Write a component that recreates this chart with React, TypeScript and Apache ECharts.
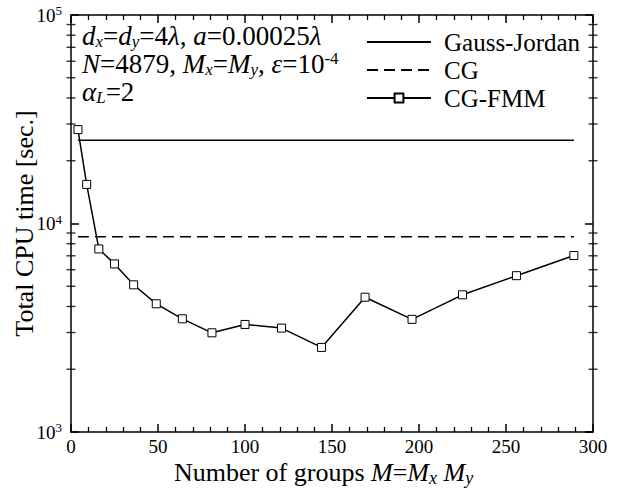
import React, { useEffect, useRef } from "react";
import * as echarts from "echarts";

const groupCounts = [4, 9, 16, 25, 36, 49, 64, 81, 100, 121, 144, 169, 196, 225, 256, 289];
const cgFmmTimes = [28200, 15400, 7550, 6400, 5080, 4120, 3490, 2990, 3280, 3150, 2545, 4430, 3470, 4550, 5620, 7020];
const gaussJordanX = [4, 289];
const gaussJordanTime = 25100;
const cgX = [4, 289];
const cgTime = 8650;
const yMinorValues = [2000, 3000, 4000, 5000, 6000, 7000, 8000, 9000, 20000, 30000, 40000, 50000, 60000, 70000, 80000, 90000];
const xRange = [0, 300];

const FONT = "Liberation Serif";

export default function App() {
  const ref = useRef<HTMLDivElement>(null);
  useEffect(() => {
    if (!ref.current) return;
    const chart = echarts.init(ref.current, null, { renderer: "svg" });
    const axisLine = { show: true, onZero: false, lineStyle: { color: "#000", width: 1.5 } };
    const baseText = { fontFamily: FONT, color: "#000", fontWeight: "normal" as const };
    const tickSeries = (x: number) => ({
      type: "scatter",
      silent: true,
      clip: false,
      z: 10,
      xAxisIndex: 0,
      yAxisIndex: 0,
      symbol: "rect",
      symbolSize: [9, 1.4],
      itemStyle: { color: "#000" },
      data: yMinorValues.map((v) => [x, v]),
    });
    const option: any = {
      animation: false,
      backgroundColor: "#fff",
      title: {
        left: 82,
        top: 22,
        padding: 0,
        text:
          "{i|d}{sub|x}{n|=}{i|d}{sub|y}{n|=4}{i|λ}{n|, }{i|a}{n|=0.00025}{i|λ}\n" +
          "{i|N}{n|=4879, }{i|M}{sub|x}{n|=}{i|M}{sub|y}{n|, }{i|ε}{n|=10}{sup|-4}\n" +
          "{i|α}{sub|L}{n|=2}",
        textStyle: {
          ...baseText,
          fontSize: 27,
          lineHeight: 28,
          rich: {
            i: { ...baseText, fontSize: 27, fontStyle: "italic", lineHeight: 28 },
            n: { ...baseText, fontSize: 27, lineHeight: 28 },
            sub: { ...baseText, fontSize: 17, fontStyle: "italic", lineHeight: 17, verticalAlign: "bottom" },
            sup: { ...baseText, fontSize: 17, lineHeight: 17, verticalAlign: "top" },
          },
        },
      },
      legend: {
        data: [
          { name: "Gauss-Jordan", itemStyle: { opacity: 0 } },
          { name: "CG", itemStyle: { opacity: 0 } },
          { name: "CG-FMM" },
        ],
        orient: "vertical",
        left: 366,
        top: 29,
        padding: 0,
        itemWidth: 64,
        itemHeight: 11,
        itemGap: 2,
        textStyle: { ...baseText, fontSize: 25, lineHeight: 26, padding: [0, 0, 0, 8] },
      },
      grid: { left: 71, right: 40, top: 15, bottom: 59, containLabel: false, outerBoundsMode: "none" },
      xAxis: [
        {
          type: "value",
          min: xRange[0],
          max: xRange[1],
          interval: 50,
          position: "bottom",
          axisLine,
          axisTick: { show: true, inside: true, length: 8, lineStyle: { color: "#000", width: 1.5 } },
          minorTick: { show: true, splitNumber: 5, length: 5, lineStyle: { color: "#000", width: 1.3 } },
          splitLine: { show: false },
          axisLabel: { ...baseText, fontSize: 19, margin: 5 },
          name: "{n|Number of groups }{i|M}{n|=}{i|M}{sub|x}{n| }{i|M}{sub|y}",
          nameLocation: "middle",
          nameGap: 25,
          nameMoveOverlap: false,
          nameTextStyle: {
            ...baseText,
            fontSize: 26,
            padding: [0, 17, 0, 0],
            rich: {
              i: { ...baseText, fontSize: 26, fontStyle: "italic", lineHeight: 30 },
              n: { ...baseText, fontSize: 26, lineHeight: 30 },
              sub: { ...baseText, fontSize: 18, fontStyle: "italic", lineHeight: 18, verticalAlign: "bottom" },
            },
          },
        },
        {
          type: "value",
          min: xRange[0],
          max: xRange[1],
          interval: 50,
          position: "top",
          axisLine,
          axisTick: { show: true, inside: true, length: 8, lineStyle: { color: "#000", width: 1.5 } },
          minorTick: { show: true, splitNumber: 5, length: 5, lineStyle: { color: "#000", width: 1.3 } },
          splitLine: { show: false },
          axisLabel: { show: false },
        },
      ],
      yAxis: [
        {
          type: "log",
          logBase: 10,
          min: 1000,
          max: 100000,
          position: "left",
          axisLine,
          axisTick: { show: true, inside: true, length: 8, lineStyle: { color: "#000", width: 1.5 } },
          splitLine: { show: false },
          axisLabel: {
            margin: 9,
            formatter: (v: number) => `{b|10}{s|${Math.round(Math.log10(v))}}`,
            rich: {
              b: { ...baseText, fontSize: 19, lineHeight: 22 },
              s: { ...baseText, fontSize: 13, lineHeight: 13, verticalAlign: "top" },
            },
          },
          name: "Total CPU time [sec.]",
          nameLocation: "middle",
          nameGap: 34,
          nameMoveOverlap: false,
          nameTextStyle: { ...baseText, fontSize: 26, lineHeight: 26 },
        },
        {
          type: "log",
          logBase: 10,
          min: 1000,
          max: 100000,
          position: "right",
          axisLine,
          axisTick: { show: true, inside: true, length: 8, lineStyle: { color: "#000", width: 1.5 } },
          splitLine: { show: false },
          axisLabel: { show: false },
        },
      ],
      series: [
        {
          name: "Gauss-Jordan",
          type: "line",
          data: gaussJordanX.map((x) => [x, gaussJordanTime]),
          symbol: "none",
          lineStyle: { color: "#000", width: 1.5 },
          itemStyle: { color: "#000" },
        },
        {
          name: "CG",
          type: "line",
          data: cgX.map((x) => [x, cgTime]),
          symbol: "none",
          lineStyle: { color: "#000", width: 1.5, type: [11, 6] },
          itemStyle: { color: "#000" },
        },
        {
          name: "CG-FMM",
          type: "line",
          data: groupCounts.map((x, i) => [x, cgFmmTimes[i]]),
          symbol: "rect",
          symbolSize: 8,
          lineStyle: { color: "#000", width: 1.5 },
          itemStyle: { color: "#fff", borderColor: "#000", borderWidth: 1 },
          z: 5,
        },
        { name: "leftMinorTicks", ...tickSeries(xRange[0]) },
        { name: "rightMinorTicks", ...tickSeries(xRange[1]) },
      ],
    };
    chart.setOption(option);
    return () => chart.dispose();
  }, []);
  return <div ref={ref} style={{ position: "fixed", left: 0, top: 0, width: 633, height: 491 }} />;
}
